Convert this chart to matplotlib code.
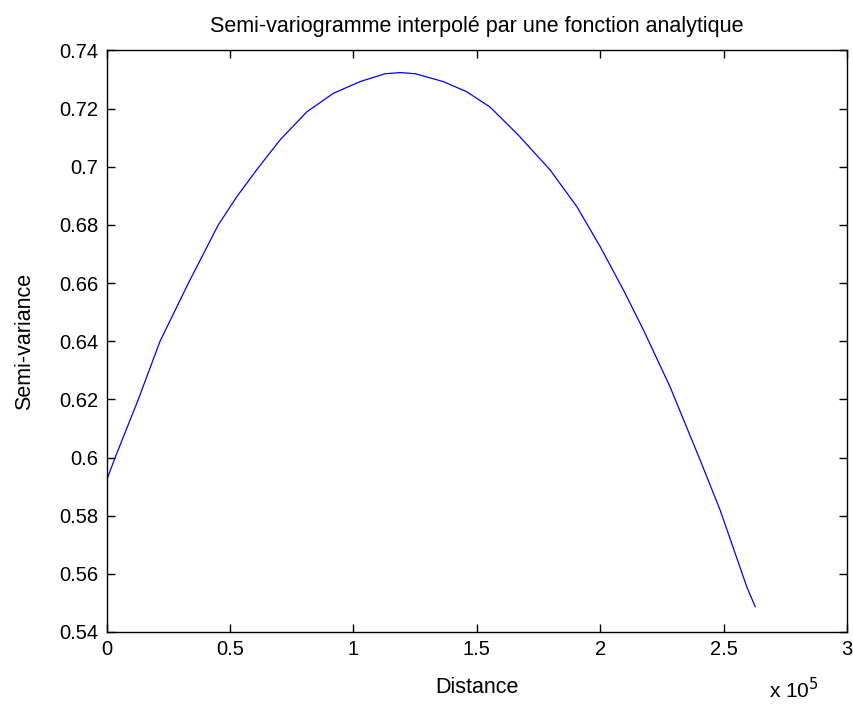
import numpy as np
import matplotlib
matplotlib.use("Agg")
import matplotlib.pyplot as plt
from matplotlib.ticker import FuncFormatter

plt.rcParams['font.family'] = ['Liberation Sans', 'DejaVu Sans']

# distance (m) and semi-variance
distance = [0, 3400, 12800, 21600, 33100, 45200, 52700, 60800, 70200, 81100,
            91900, 102700, 112800, 119000, 125000, 136400, 145900, 155400,
            166800, 179700, 190500, 200000, 209400, 217500, 228300, 240500,
            248600, 259400, 262800]
semivar = [0.5923, 0.600, 0.620, 0.640, 0.660, 0.680, 0.6897, 0.6990, 0.7092,
           0.7189, 0.7253, 0.7293, 0.7320, 0.7324, 0.7320, 0.7293, 0.7258,
           0.7205, 0.7109, 0.6989, 0.6863, 0.6725, 0.6576, 0.6439, 0.6243,
           0.5991, 0.5819, 0.5555, 0.5487]

x_ticks = [0, 50000, 100000, 150000, 200000, 250000, 300000]
y_ticks = [0.54, 0.56, 0.58, 0.6, 0.62, 0.64, 0.66, 0.68, 0.7, 0.72, 0.74]

fig = plt.figure(figsize=(8.54, 7.04), dpi=100)
ax = fig.add_axes([0.125, 0.1023, 0.8668, 0.826])

ax.plot(distance, semivar, color=(0, 0, 1), lw=0.9)

ax.set_xlim(0, 300000)
ax.set_ylim(0.54, 0.74)
ax.set_xticks(x_ticks)
ax.set_yticks(y_ticks)
ax.xaxis.set_major_formatter(FuncFormatter(lambda v, p: f"{v / 1e5:g}"))
ax.yaxis.set_major_formatter(FuncFormatter(lambda v, p: f"{v:g}"))
ax.tick_params(direction='in', length=6, width=1, top=True, right=True,
               labelsize=14.5, pad=6)
for s in ax.spines.values():
    s.set_linewidth(1)

ax.set_title("Semi-variogramme interpolé par une fonction analytique",
             fontsize=15.5, pad=13)
ax.set_xlabel("Distance", fontsize=15.5, labelpad=13)
ax.set_ylabel("Semi-variance", fontsize=15.5, labelpad=17)
fig.text(0.901, 0.008, r"x 10$^{5}$", fontsize=15)

fig.savefig("out.png", dpi=100)
